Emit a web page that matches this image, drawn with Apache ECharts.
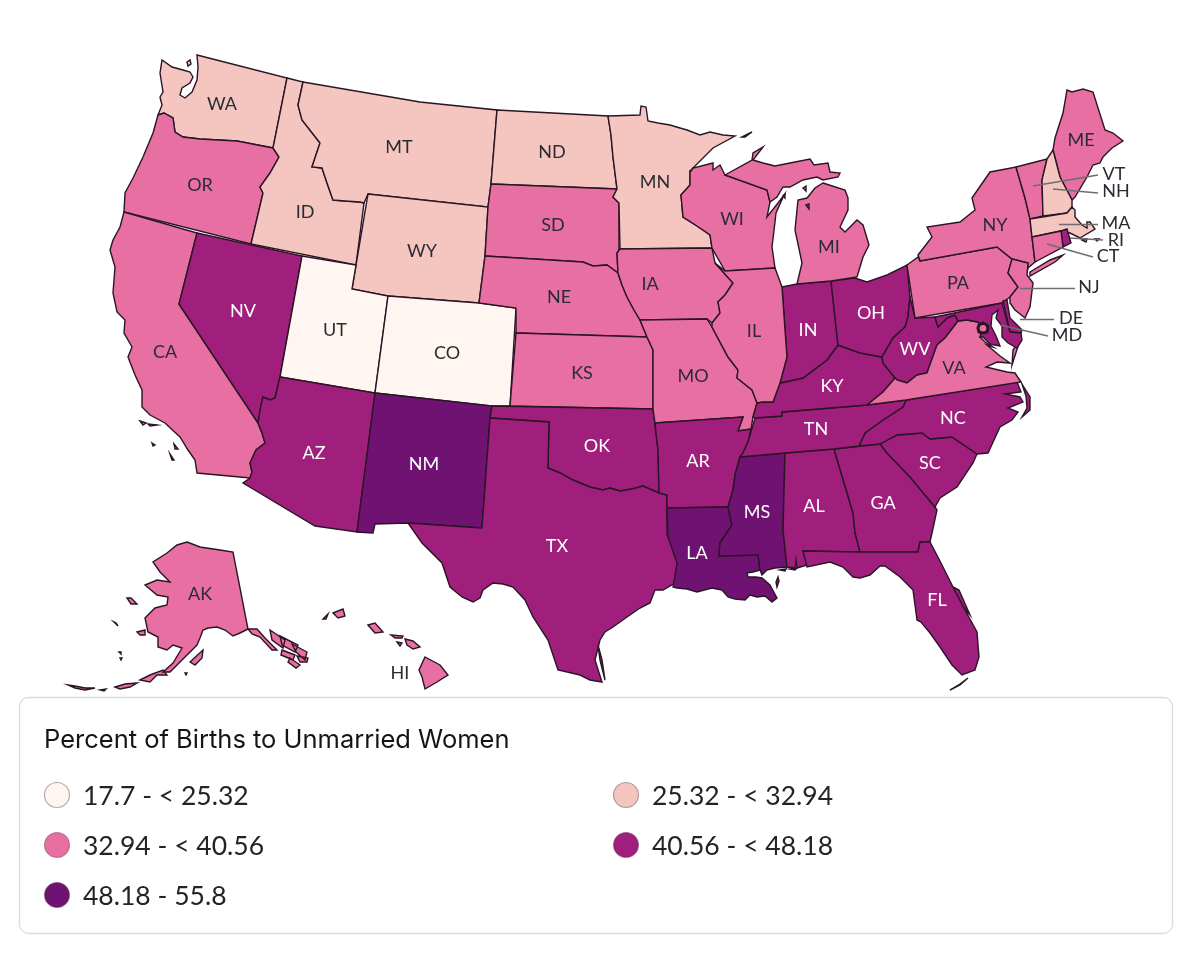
<!DOCTYPE html>
<html><head><meta charset="utf-8">
<style>html,body{margin:0;padding:0;background:#fff}#c{width:1200px;height:953px}</style>
<script src="https://cdn.jsdelivr.net/npm/echarts@6/dist/echarts.min.js"></script>
</head><body><div id="c"></div>
<script>
// ---- data ----
const legendTitle = 'Percent of Births to Unmarried Women';
const binLabels = ['17.7 - < 25.32','25.32 - < 32.94','32.94 - < 40.56','40.56 - < 48.18','48.18 - 55.8'];
const binEdges = [17.7,25.32,32.94,40.56,48.18,55.8];
const binColors = ['#fff6f2','#f4c6bf','#e76fa2','#a01f7c','#6f1271'];
const states = ['WA','OR','CA','NV','ID','MT','WY','UT','CO','AZ','NM','ND','SD','NE','KS','OK','TX','MN','IA','MO','AR','LA','MS','AL','GA','FL','SC','NC','TN','KY','IN','OH','WV','VA','WI','MI','IL','PA','NY','ME','AK','HI','VT','NH','MA','RI','CT','NJ','DE','MD','DC'];
const values = [31.2,36.1,37.5,46.5,27.5,32.5,32.2,19.6,24.9,44.7,52.5,31.5,37.8,33.5,36.5,42.5,41.5,30.5,35.5,39.5,46.5,55.8,54.0,46.8,45.6,46.0,46.8,41.5,43.8,41.5,42.8,43.0,46.5,35.5,35.5,40.2,38.8,40.4,38.9,39.9,38.0,37.0,39.0,32.3,32.8,44.0,38.2,33.5,46.8,41.2,38.0];
const labelAnchors = {WA:[222,104],OR:[200,185],CA:[165,352],NV:[243,311],ID:[305,212],MT:[399,147],WY:[422,251],UT:[335,330],CO:[447,353],AZ:[314,453],NM:[424,464],ND:[552,152],SD:[553,225],NE:[559,297],KS:[582,373],OK:[597,446],TX:[557,546],MN:[655,182],IA:[650,284],MO:[693,376],AR:[698,461],LA:[697,553],MS:[757,512],AL:[814,506],GA:[883,503],FL:[937,600],SC:[930,463],NC:[953,418],TN:[816,429],KY:[832,386],IN:[808,330],OH:[871,313],WV:[915,349],VA:[954,368],WI:[732,219],MI:[829,247],IL:[754,331],PA:[958,283],NY:[995,225],ME:[1081,140],AK:[200,594],HI:[400,673],VT:[1114,174],NH:[1116,191],MA:[1116,223],RI:[1116,240],CT:[1108,256],NJ:[1089,287],DE:[1071,318],MD:[1067,335]};
const leaders = [[1033,186,1098,175],[1053,189,1098,193],[1059,224,1098,224],[1070,238,1103,240],[1047,244,1093,257],[1020,288,1075,288],[1020,319,1054,319],[1000,325,1048,336]];
// outlines (x,y pairs per ring)
const outlines = {
WA:[[197,55,287,78,273,148,237,141,200,139,183,137,175,132,173,118,164,113,158,115,162,105,160,97,163,92,160,73,162,60,172,67,183,70,190,72,193,77,190,83,182,88,180,95,185,98,192,92,197,80,198,67],[187,62,190,60,191,64,188,66]],
OR:[[158,115,164,113,173,118,175,132,183,137,200,139,237,141,273,148,279,157,270,173,260,187,263,193,251,244,124,212,125,193,133,178,143,157,153,133]],
CA:[[124,212,197,233,179,304,258,423,262,433,265,443,256,450,250,463,252,472,250,478,197,473,195,460,188,450,180,437,165,423,150,415,142,407,142,390,135,375,128,357,132,347,124,333,125,320,117,312,113,293,115,267,110,250,113,240,120,227],[140,421,146,423,143,425],[148,424,157,425,150,426],[152,443,155,445,153,446],[174,444,178,449,175,449],[170,454,174,460,172,460]],
NV:[[197,233,302,256,280,377,275,398,270,400,263,397,261,405,258,423,179,304]],
ID:[[287,78,303,82,298,105,302,120,320,143,312,167,322,168,327,183,333,200,345,201,360,202,364,203,356,265,251,244,263,193,260,187,270,173,279,157,273,148]],
MT:[[303,82,420,102,497,110,491,184,488,207,368,194,364,203,360,202,345,201,333,200,327,183,322,168,312,167,320,143,302,120,298,105]],
WY:[[368,194,488,207,485,256,479,303,388,296,352,289]],
UT:[[302,256,356,265,352,289,388,296,375,393,280,377]],
CO:[[388,296,479,303,516,308,510,406,492,406,375,393]],
AZ:[[280,377,375,393,357,532,315,526,243,483,250,478,252,472,250,463,256,450,265,443,262,433,258,423,261,405,263,397,270,400,275,398]],
NM:[[375,393,492,406,490,418,482,528,408,523,375,524,373,533,357,532]],
ND:[[497,110,608,116,611,135,613,157,617,189,491,184]],
SD:[[491,184,617,189,613,197,619,203,619,250,617,253,618,273,607,265,593,266,583,262,485,256,488,207]],
NE:[[485,256,583,262,593,266,607,265,618,273,622,285,627,297,634,310,640,320,647,337,516,333,516,308,479,303]],
KS:[[516,333,647,337,653,350,653,409,510,406]],
OK:[[492,406,653,409,656,433,658,450,659,493,643,486,632,489,620,491,610,488,603,490,590,487,573,480,560,473,548,468,549,422,490,418]],
TX:[[490,418,549,422,548,468,560,473,573,480,590,487,603,490,610,488,620,491,632,489,643,486,659,493,667,495,667,535,675,545,678,557,675,583,663,590,655,590,650,603,640,608,627,617,613,627,605,632,600,640,595,660,602,682,590,680,580,675,558,670,553,655,548,640,533,617,525,600,513,587,503,584,493,583,483,590,480,598,473,602,462,597,450,587,442,563,422,543,408,523,482,528],[598,645,602,660,605,680,600,660]],
MN:[[608,116,640,115,641,106,646,107,648,121,658,123,670,125,680,128,687,130,700,135,710,132,723,135,735,136,713,148,693,168,690,171,690,185,681,195,683,217,697,226,710,235,712,248,620,249,619,203,613,197,617,189,613,157,611,135]],
IA:[[620,249,712,248,715,263,733,283,725,295,718,302,720,313,712,323,707,319,640,320,634,310,627,297,622,285,618,273,617,253]],
MO:[[640,320,707,319,712,327,728,357,738,370,737,378,752,390,757,403,753,417,751,429,738,431,743,417,655,423,653,409,653,350,647,337]],
AR:[[655,423,743,417,738,431,751,429,748,442,743,453,740,457,735,475,733,490,728,507,667,508,667,495,659,493,658,450,656,433]],
LA:[[667,508,728,507,732,525,720,543,719,556,758,555,760,570,753,572,747,573,748,577,756,577,762,578,770,585,777,598,772,602,765,596,757,597,750,595,745,600,735,599,728,597,722,590,712,588,697,592,687,589,677,588,673,587,677,563,668,537],[778,577,779,581,777,587,776,582]],
MS:[[728,507,733,490,735,475,740,457,785,453,783,530,787,567,775,568,767,570,762,575,760,570,758,555,719,556,720,543,732,525],[780,570,786,569,785,571],[790,569,797,568,795,570]],
AL:[[785,453,834,449,853,513,855,533,860,552,803,551,807,565,797,568,796,560,795,568,787,567,783,530]],
GA:[[834,449,880,444,887,453,910,477,935,507,937,510,932,533,930,542,920,542,918,552,860,552,855,533,853,513]],
FL:[[803,551,860,552,918,552,920,542,930,542,942,565,953,587,965,610,977,632,979,657,975,670,962,675,952,665,940,647,930,633,921,622,917,620,913,590,900,577,885,566,880,566,870,575,860,578,853,577,843,567,830,562,807,567],[953,587,959,590,970,615,964,608],[950,690,960,685,968,678,960,684]],
SC:[[880,444,897,435,922,433,930,439,952,437,977,454,973,463,957,487,940,498,935,507,910,477,887,453]],
NC:[[906,400,1017,382,1021,392,1005,394,1020,397,1023,402,1008,408,1018,412,1012,420,1000,427,988,453,977,454,952,437,930,439,922,433,897,435,880,444,859,446,865,433,883,420,903,407],[1022,384,1030,397,1030,410,1022,417,1027,408,1026,396]],
TN:[[755,418,782,416,782,412,867,405,906,400,903,407,883,420,865,433,859,446,834,449,785,453,740,457,743,453,748,442]],
KY:[[753,417,757,403,762,402,773,402,780,383,803,378,827,360,838,345,860,353,882,357,883,363,895,378,883,392,867,405,782,412,782,416,755,418]],
IN:[[782,287,797,284,831,281,838,345,827,360,803,378,780,383,787,357,785,330]],
OH:[[831,281,855,278,867,282,887,275,907,265,910,297,908,317,905,327,893,338,882,357,860,353,838,345]],
WV:[[910,297,915,318,935,317,938,327,947,318,955,315,958,321,955,325,945,338,937,345,927,373,917,375,907,383,897,380,895,378,883,363,882,357,893,338,905,327,908,317]],
VA:[[867,405,883,392,895,378,897,380,907,383,917,375,927,373,937,345,945,338,955,325,958,321,967,320,978,322,983,328,980,337,985,342,993,347,987,345,1000,356,1010,363,997,362,986,367,1007,372,1015,373,1021,382,906,400],[1020,340,1013,350,1012,365]],
WI:[[691,171,693,168,713,163,713,170,720,165,725,175,767,190,770,202,767,217,778,203,784,195,776,213,775,222,772,247,775,268,725,271,712,248,710,235,697,226,683,217,681,195,690,185,690,171]],
MI:[[725,175,752,160,753,153,763,147,753,160,763,163,775,166,790,163,810,159,814,165,828,163,830,172,840,173,838,177,823,180,817,177,803,180,790,187,783,187,777,197,770,202,767,190],[823,183,845,190,848,198,848,210,840,227,845,232,857,220,863,225,869,245,863,257,857,277,831,281,797,284,802,263,795,230,798,200,807,198,815,188],[742,137,752,132,745,137],[803,188,806,186,806,191],[783,196,785,194,785,198],[806,205,809,204,809,209]],
IL:[[725,271,775,268,782,287,785,330,787,357,780,383,773,402,762,402,757,403,752,390,737,378,738,370,728,357,712,327,712,323,720,313,718,302,725,295,733,283,715,263]],
PA:[[907,265,918,257,920,261,997,247,1012,259,1008,273,1018,287,1010,297,1002,303,915,318]],
NY:[[920,261,918,255,932,237,927,227,960,222,975,210,972,198,990,172,1016,167,1025,198,1030,219,1032,237,1035,262,1028,268,1027,272,1028,263,1012,259,997,247],[1030,272,1050,260,1063,255,1055,262,1030,276]],
NJ:[[1012,259,1028,263,1027,275,1033,283,1030,307,1025,318,1015,310,1010,303,1010,297,1018,287,1008,273]],
DE:[[1003,301,1007,300,1010,318,1022,330,1021,333,1010,332]],
MD:[[935,317,1002,303,1010,332,1021,333,1022,340,1017,348,1008,343,1002,337,1002,326,996,318,998,310,992,315,991,326,996,336,1000,346,990,344,983,337,980,337,983,328,978,322,967,320,958,321,955,315,947,318,938,327]],
ME:[[1053,150,1055,138,1063,113,1067,90,1072,92,1083,89,1093,92,1105,130,1113,133,1123,141,1112,148,1103,157,1100,163,1093,165,1087,177,1075,197,1072,200,1060,177]],
VT:[[1016,167,1047,159,1042,180,1043,216,1030,219,1025,198]],
NH:[[1047,159,1053,150,1060,177,1072,200,1072,207,1067,213,1043,216,1042,180]],
MA:[[1030,219,1067,213,1072,207,1075,210,1075,217,1082,225,1087,228,1087,222,1090,222,1095,229,1080,238,1070,233,1060,231,1032,237],[1082,240,1087,239,1086,242],[1095,239,1099,239,1097,241]],
RI:[[1061,231,1067,229,1071,243,1063,247]],
CT:[[1032,237,1061,231,1063,247,1035,262]],
DC:[[983,323,987,325,988,328,987,332,983,333,979,332,978,328,979,325]],
AK:[[187,542,200,547,220,550,233,552,248,629,240,633,233,636,225,630,217,627,208,628,203,630,200,638,197,645,180,662,170,672,163,672,173,663,182,648,173,645,167,650,158,647,158,637,148,632,145,618,155,608,167,605,168,597,157,595,145,585,157,580,170,582,160,572,153,562,167,553,177,545],
[248,629,257,629,265,638,277,650,272,650,260,637,252,634],[270,630,285,640,283,648,272,640],[280,636,298,645,295,652,282,645],[282,650,295,655,293,660,281,655],[292,644,307,652,305,660,296,652],[297,656,308,658,307,662,300,662],[290,658,300,665,296,668,288,662],
[137,632,145,630,145,635,140,635],[127,598,131,598,137,604,131,604],[114,622,116,623,118,626],[119,652,121,652,121,654],[120,658,122,658,121,660],[190,662,203,650,202,658,195,665],[140,680,150,675,163,670,167,675,157,675,150,682],[115,687,125,684,137,683,130,687,120,689],[100,690,106,689,104,691],[68,685,75,686,85,688,95,688,85,690,75,688],[185,673,187,673,186,675]],
HI:[[425,657,440,665,448,675,437,682,425,689,422,677,419,670],[405,639,413,641,420,647,413,649,407,645],[391,635,403,636,402,638,395,638],[397,642,402,643,400,646],[368,625,375,623,383,632,375,633],[333,613,343,609,345,616,338,618],[323,619,328,614,326,619]]
};
// ---- map geometry ----
const features = states.map(s => ({
  type:'Feature',
  properties:{name:s, cp: labelAnchors[s] ? [labelAnchors[s][0], -labelAnchors[s][1]] : undefined},
  geometry:{type:'MultiPolygon', coordinates: outlines[s].map(r => {
    const ring=[]; for(let i=0;i<r.length;i+=2) ring.push([r[i],-r[i+1]]);
    ring.push(ring[0]); return [ring];
  })}
}));
echarts.registerMap('usStates',{type:'FeatureCollection',features});
const chart = echarts.init(document.getElementById('c'),null,{renderer:'canvas'});
const fontMap='Lato, sans-serif';
const binOf = v => { for(let i=0;i<5;i++) if(v<binEdges[i+1]) return i; return 4; };
const outside = ['VT','NH','MA','RI','CT','NJ','DE','MD','HI'];
const mapData = states.map((s,i)=>({name:s, value:values[i]}));
const regionStyles = states.map((s,i)=>({
  name:s,
  label:{show:s!=='DC', color:(binOf(values[i])>=3 && !outside.includes(s))?'#fff':'#2b2b33'},
  itemStyle: s==='DC' ? {borderWidth:3} : undefined
}));
const itemRows=[796,846,896], colX=[57,626];
const legendGraphics=[
 {type:'rect',shape:{x:19.5,y:697.5,width:1153,height:236,r:9},style:{fill:'#fff',stroke:'#dcdcdc',lineWidth:1.3},z:1},
 {type:'text',style:{x:44,y:740,text:legendTitle,font:'400 25.5px Inter, sans-serif',fill:'#151515',textVerticalAlign:'middle'},z:2}
];
binLabels.forEach((t,i)=>{
  const cx=colX[i%2], cy=itemRows[Math.floor(i/2)];
  legendGraphics.push({type:'circle',shape:{cx,cy:cy-1,r:12.5},style:{fill:binColors[i],stroke:'rgba(80,40,60,0.4)',lineWidth:1.2},z:2});
  legendGraphics.push({type:'text',style:{x:cx+26,y:cy,text:t,font:'400 26.5px Lato, sans-serif',fill:'#242424',textVerticalAlign:'middle'},z:2});
});
chart.setOption({
  animation:false,
  backgroundColor:'#fff',
  tooltip:{show:false},
  visualMap:{type:'piecewise',show:false,seriesIndex:0,dimension:0,
    pieces:binLabels.map((t,i)=>({gte:binEdges[i],lt:i===4?56:binEdges[i+1],color:binColors[i],label:t}))},
  geo:{map:'usStates',roam:false,silent:true,aspectScale:1,
    boundingCoords:[[0,0],[1200,-953]],left:0,top:0,width:1200,height:953,
    itemStyle:{borderColor:'#2a1526',borderWidth:1.4,areaColor:'#fff'},
    label:{show:true,fontFamily:fontMap,fontSize:18,color:'#2b2b33'},
    emphasis:{disabled:true},select:{disabled:true},
    regions:regionStyles},
  series:[
   {type:'map',geoIndex:0,data:mapData,emphasis:{disabled:true}},
   {type:'lines',coordinateSystem:'geo',silent:true,polyline:false,symbol:'none',z:5,
    lineStyle:{color:'#6e6e6e',width:1.4,opacity:1,curveness:0},
    data:leaders.map(l=>({coords:[[l[0],-l[1]],[l[2],-l[3]]]}))}
  ],
  graphic:{elements:legendGraphics}
});
</script></body></html>
